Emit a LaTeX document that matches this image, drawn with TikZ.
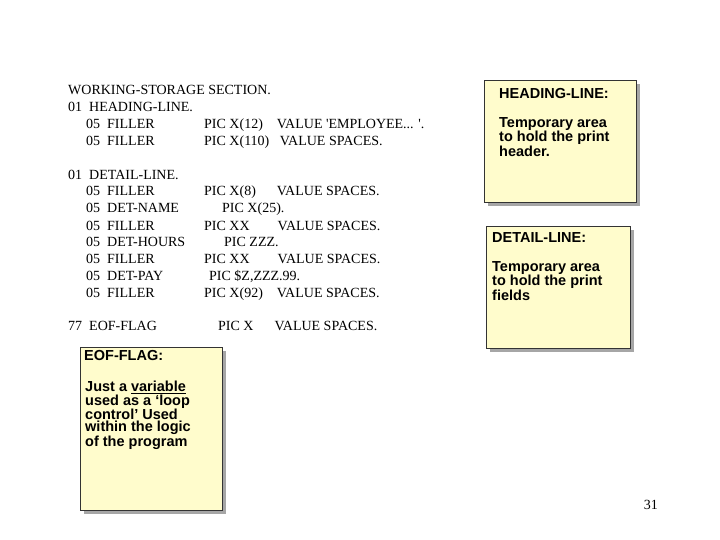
\documentclass[tikz,border=0pt]{standalone}
\usepackage{fontspec}
\setmainfont{Liberation Serif}
\newfontfamily\codefont{Liberation Serif}
\newfontfamily\boxfont{Liberation Sans}
\newcommand{\cf}{\codefont\fontsize{14}{16}\selectfont}
\newcommand{\bxf}{\boxfont\bfseries\fontsize{14.5}{19}\selectfont}
\begin{document}
\begin{tikzpicture}[x=1pt,y=-1pt,
  code/.style={anchor=base west,inner sep=0pt},
  note/.style={fill=yellow!20,draw=black!80,line width=0.6pt},
  shadow/.style={fill=gray!70},
  ntext/.style={anchor=north west,inner sep=0pt,align=left}]
\useasboundingbox (0,0) rectangle (720,540);
% code listing
\node[code] (l1) at (68,95) {\cf WORKING-STORAGE SECTION.};
\node[code] (l2) at (68,112) {\cf 01\ \ HEADING-LINE.};
\node[code] (l3) at (86,129) {\cf 05\ \ FILLER};
\node[code] (l3b) at (204,129) {\cf PIC X(12)\ \ \ \ VALUE 'EMPLOYEE... '.};
\node[code] (l4) at (86,146) {\cf 05\ \ FILLER};
\node[code] (l4b) at (204,146) {\cf PIC X(110)\ \ \ VALUE SPACES.};
\node[code] (l5) at (68,180) {\cf 01\ \ DETAIL-LINE.};
\node[code] (l6) at (86,196) {\cf 05\ \ FILLER};
\node[code] (l6b) at (204,196) {\cf PIC X(8)\ \ \ \ \ \ VALUE SPACES.};
\node[code] (l7) at (86,213) {\cf 05\ \ DET-NAME};
\node[code] (l7b) at (222,213) {\cf PIC X(25).};
\node[code] (l8) at (86,230) {\cf 05\ \ FILLER};
\node[code] (l8b) at (204,230) {\cf PIC XX\ \ \ \ \ \ \ \ VALUE SPACES.};
\node[code] (l9) at (86,246) {\cf 05\ \ DET-HOURS};
\node[code] (l9b) at (224,246) {\cf PIC ZZZ.};
\node[code] (l10) at (86,263) {\cf 05\ \ FILLER};
\node[code] (l10b) at (204,263) {\cf PIC XX\ \ \ \ \ \ \ \ VALUE SPACES.};
\node[code] (l11) at (86,280) {\cf 05\ \ DET-PAY};
\node[code] (l11b) at (209,280) {\cf PIC \$Z,ZZZ.99.};
\node[code] (l12) at (86,297) {\cf 05\ \ FILLER};
\node[code] (l12b) at (204,297) {\cf PIC X(92)\ \ \ \ VALUE SPACES.};
\node[code] (l13) at (68,330) {\cf 77\ \ EOF-FLAG};
\node[code] (l13b) at (218,330) {\cf PIC X\ \ \ \ \ \ VALUE SPACES.};
% notes
\fill[shadow] (488,84) rectangle (640,206);
\draw[note] (484,80) rectangle (636,202);
\node[ntext] (h1) at (499,88) {\bxf HEADING-LINE:};
\node[ntext] (h2) at (499,117) {\bxf Temporary area\\\bxf to hold the print\\\bxf header.};
\fill[shadow] (490,230) rectangle (634,352);
\draw[note] (486,226) rectangle (630,348);
\node[ntext] (d1) at (492,232) {\bxf DETAIL-LINE:};
\node[ntext] (d2) at (492,261) {\bxf Temporary area\\\bxf to hold the print\\\bxf fields};
\fill[shadow] (84,351) rectangle (226,514);
\draw[note] (80,347) rectangle (222,510);
\node[ntext] (e1) at (84,350) {\bxf EOF-FLAG:};
\node[ntext] (e2) at (85,381) {\bxf Just a \underline{variable}\\\bxf used as a ‘loop\\\bxf control’ Used\\\bxf within the logic\\\bxf of the program};
\node[code,anchor=base east] (pg) at (658,509) {\cf 31};
\end{tikzpicture}
\end{document}
